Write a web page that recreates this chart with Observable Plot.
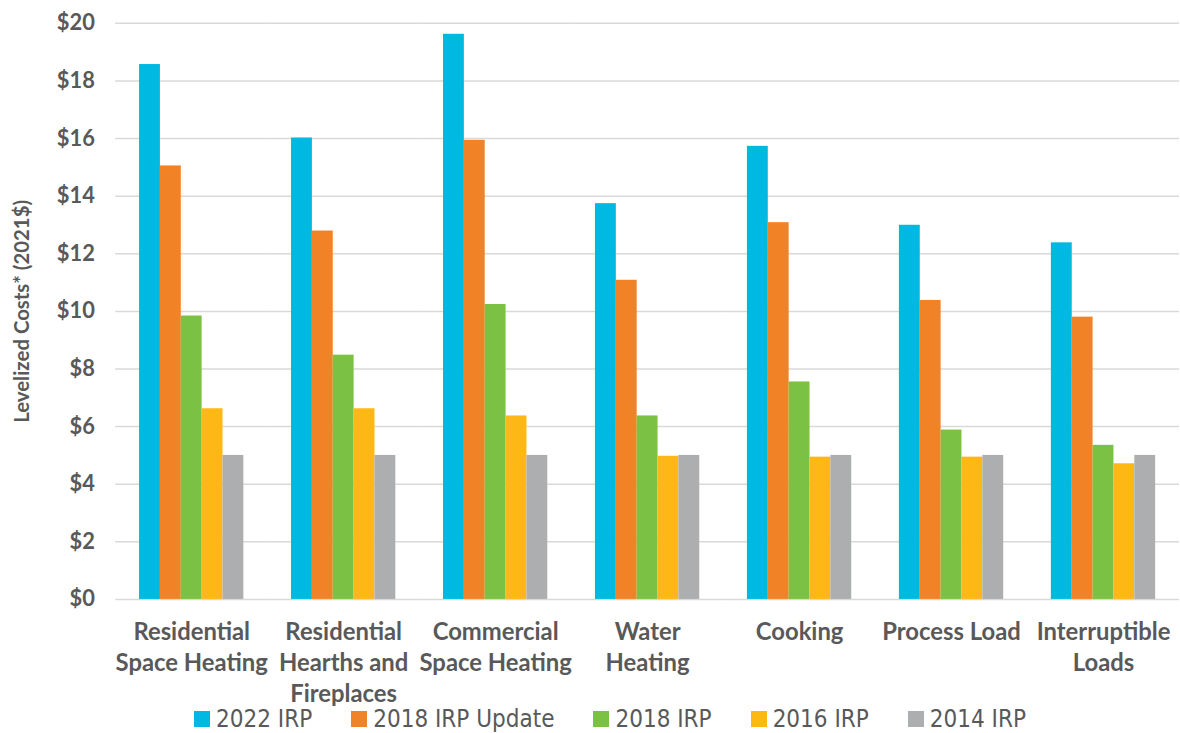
<!DOCTYPE html>
<html>
<head>
<meta charset="utf-8">
<script src="https://cdn.jsdelivr.net/npm/d3@7"></script>
<script src="https://cdn.jsdelivr.net/npm/@observablehq/plot@0.6"></script>
<style>
  html, body { margin: 0; padding: 0; background: #fff; overflow: hidden; width: 1180px; height: 733px; }
  #chart { width: 1180px; height: 733px; overflow: hidden; position: absolute; top: 0; left: 0; }
  #legend { position: absolute; top: 705px; left: 0; width: 1180px; height: 28px; display: flex; align-items: center;
    padding-left: 194px; box-sizing: border-box; font-family: "Liberation Sans Narrow", "DejaVu Sans Condensed", "Liberation Sans", sans-serif;
    font-size: 24px; color: #595959; }
  .item { display: flex; align-items: center; margin-right: 39px; }
  .sw { width: 16px; height: 16px; margin-right: 6px; }
</style>
</head>
<body>
<div id="chart"></div>
<div id="legend"></div>
<script>
const categories = ["Residential Space Heating", "Residential Hearths and Fireplaces", "Commercial Space Heating", "Water Heating", "Cooking", "Process Load", "Interruptible Loads"];
const categoryLabels = ["Residential\nSpace Heating", "Residential\nHearths and\nFireplaces", "Commercial\nSpace Heating", "Water\nHeating", "Cooking", "Process Load", "Interruptible\nLoads"];
const series = ["2022 IRP", "2018 IRP Update", "2018 IRP", "2016 IRP", "2014 IRP"];
const colors = ["#00B9E3", "#F28226", "#7BC143", "#FDB816", "#ACAEB0"];

const irp2022 = [18.57, 16.02, 19.62, 13.74, 15.73, 12.99, 12.38];
const irp2018Update = [15.05, 12.79, 15.94, 11.08, 13.08, 10.38, 9.80];
const irp2018 = [9.84, 8.48, 10.24, 6.37, 7.55, 5.88, 5.35];
const irp2016 = [6.62, 6.62, 6.37, 4.97, 4.94, 4.94, 4.71];
const irp2014 = [5.00, 5.00, 5.00, 5.00, 5.00, 5.00, 5.00];

const yTicks = [0, 2, 4, 6, 8, 10, 12, 14, 16, 18, 20];
const yLabel = "Levelized Costs* (2021$)";

const seriesValues = [irp2022, irp2018Update, irp2018, irp2016, irp2014];
const rows = [];
categories.forEach((c, i) => {
  series.forEach((s, j) => rows.push({category: c, series: s, value: seriesValues[j][i]}));
});

const chart = Plot.plot({
  width: 1188,
  height: 705,
  marginLeft: 115,
  marginRight: 0,
  marginTop: 23,
  marginBottom: 102,
  style: {fontFamily: "Lato, 'Open Sans', sans-serif", fontWeight: "bold", color: "#595959", background: "#fff", overflow: "visible"},
  fx: {domain: categories, paddingInner: 0, paddingOuter: 0, label: null, axis: null},
  x: {domain: series, paddingInner: 0, paddingOuter: 1.05, axis: null},
  y: {domain: [0, 20], nice: false},
  color: {domain: series, range: colors},
  marks: [
    Plot.gridY(yTicks, {stroke: "#d9d9d9", strokeOpacity: 1, strokeWidth: 1.5}),
    Plot.barY(rows, {fx: "category", x: "series", y: "value", fill: "series"}),
    Plot.axisY(yTicks, {tickFormat: d => "$" + d, tickSize: 0, tickPadding: 21, fontSize: 22, label: null}),
    Plot.axisY([], {tickSize: 0, fontSize: 20.5, label: yLabel, labelAnchor: "center", labelOffset: 102, labelArrow: "none"}),
    Plot.axisFx({anchor: "bottom", tickSize: 0, tickPadding: 19, fontSize: 24, lineHeight: 1.3, label: null,
      tickFormat: d => categoryLabels[categories.indexOf(d)]})
  ]
});
document.getElementById("chart").append(chart);

const legend = document.getElementById("legend");
series.forEach((s, j) => {
  const item = document.createElement("div");
  item.className = "item";
  const sw = document.createElement("div");
  sw.className = "sw";
  sw.style.background = colors[j];
  const t = document.createElement("span");
  t.textContent = s;
  item.append(sw, t);
  legend.append(item);
});
</script>
</body>
</html>
